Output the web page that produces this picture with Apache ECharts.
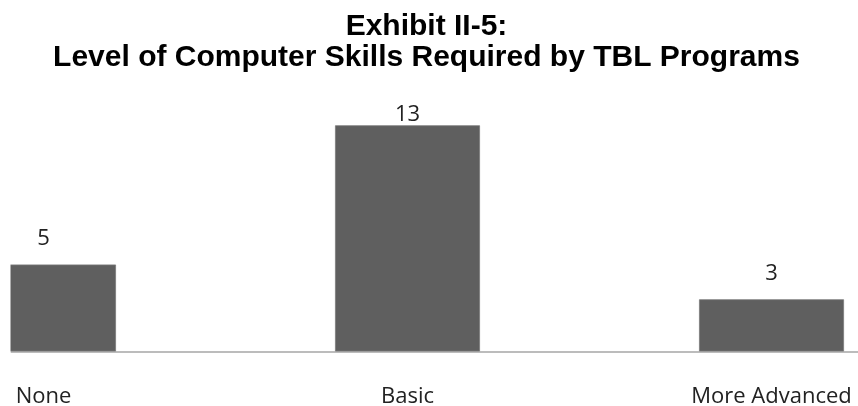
<!DOCTYPE html>
<html>
<head>
<meta charset="utf-8">
<script src="https://cdn.jsdelivr.net/npm/echarts@6/dist/echarts.min.js"></script>
<style>
html,body{margin:0;padding:0;background:#fff;}
#chart{width:858px;height:406px;}
</style>
</head>
<body>
<div id="chart"></div>
<script>
const titleLines = ['Exhibit II-5:', 'Level of Computer Skills Required by TBL Programs'];
const categories = ['None', 'Basic', 'More Advanced'];
const programs = [5, 13, 3];
const labelGaps = [15, 0, 15];

const chart = echarts.init(document.getElementById('chart'));
chart.setOption({
  animation: false,
  backgroundColor: '#ffffff',
  title: {
    text: titleLines.join('\n'),
    left: 421.5,
    top: 6,
    textAlign: 'center',
    textStyle: {
      fontFamily: 'Liberation Sans',
      fontWeight: 'bold',
      fontSize: 30,
      lineHeight: 31,
      color: '#000000'
    }
  },
  grid: { left: 11, right: 0, top: 107.9, bottom: 54.5, containLabel: false, outerBoundsMode: 'none' },
  xAxis: {
    type: 'value',
    min: -0.0893,
    max: 2.2376,
    splitLine: { show: false },
    axisLine: { show: true, onZero: false, lineStyle: { color: '#a6a6a6', width: 1.5 } },
    axisTick: { show: false },
    axisLabel: {
      customValues: [0, 1, 2],
      showMinLabel: true,
      showMaxLabel: true,
      formatter: v => categories[Math.round(v)] || '',
      margin: 34,
      fontFamily: 'Open Sans',
      fontSize: 22,
      color: '#222222'
    }
  },
  yAxis: {
    type: 'value',
    min: 0,
    max: 14,
    show: false,
    splitLine: { show: false }
  },
  series: [{
    type: 'bar',
    barWidth: 145,
    clip: true,
    data: programs.map((v, i) => ({ value: [i, v], label: { distance: labelGaps[i] } })),
    encode: { x: 0, y: 1 },
    itemStyle: { color: '#5f5f5f', borderColor: '#7a7a7a', borderWidth: 0.8 },
    label: {
      show: true,
      position: 'top',
      formatter: p => String(p.value[1]),
      fontFamily: 'Open Sans',
      fontSize: 22,
      color: '#222222'
    }
  }],
  graphic: [{
    type: 'rect',
    shape: { x: 0, y: 90, width: 10.5, height: 263 },
    style: { fill: '#ffffff' },
    z: 100
  }]
});
</script>
</body>
</html>
